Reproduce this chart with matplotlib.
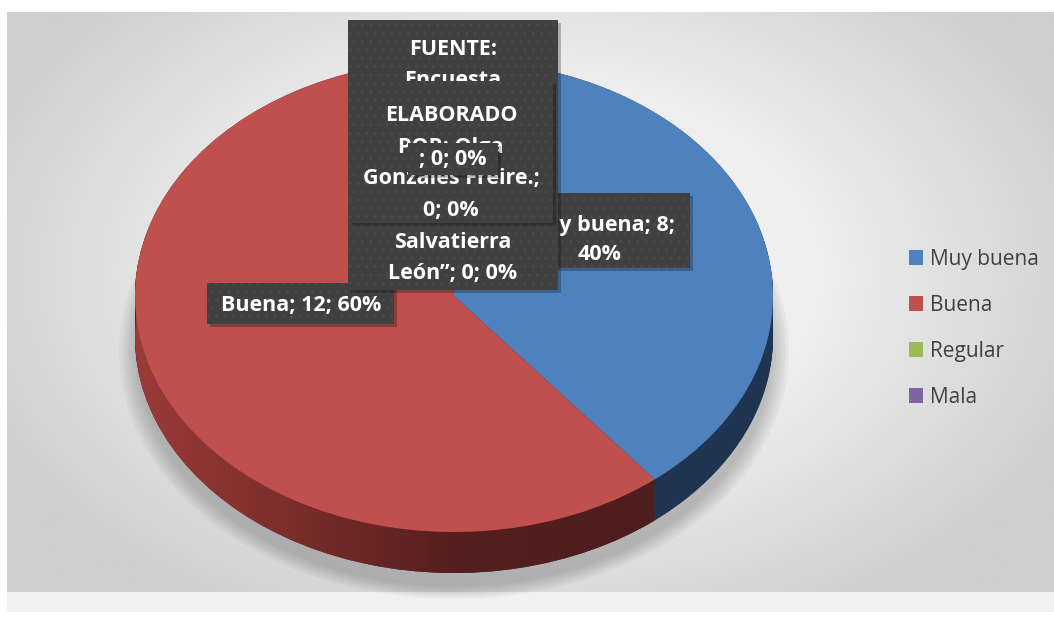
import numpy as np
import matplotlib
matplotlib.use("Agg")
import matplotlib.pyplot as plt
from matplotlib.patches import Rectangle
from matplotlib.colors import LinearSegmentedColormap

# data
categories = ["Muy buena", "Buena", "Regular", "Mala"]
values = [8, 12, 0, 0]
top_colors = ["#4f81bd", "#c0504d", "#9bbb59", "#8064a2"]
side_colors = ["#1f3450", "#4f1e1e", "#3e4a23", "#332841"]

total = sum(values)
pcts = [v / total * 100 for v in values]
label_muy = f"{categories[0]}; {values[0]};\n{pcts[0]:.0f}%"
label_buena = f"{categories[1]}; {values[1]}; {pcts[1]:.0f}%"
zero_label = f"; {values[2]}; {pcts[2]:.0f}%"

fuente_top = "FUENTE:\nEncuesta"
fuente_bottom = f"Salvatierra\nLeón”; {values[2]}; {pcts[2]:.0f}%"
elaborado = f"ELABORADO\nPOR: Olga\nGonzales Freire.;\n{values[3]}; {pcts[3]:.0f}%"

W, H = 1054, 620
fig = plt.figure(figsize=(W / 100, H / 100), dpi=100)

# background with radial gradient
bg = fig.add_axes([0, 0, 1, 1])
bg.set_xlim(0, W)
bg.set_ylim(H, 0)
bg.axis("off")
yy, xx = np.mgrid[0:1:200j, 0:1:300j]
rr = np.sqrt(((xx - 0.5) / 0.75) ** 2 + ((yy - 0.45) / 0.9) ** 2)
cmap_bg = LinearSegmentedColormap.from_list("bg", ["#f6f6f6", "#eeeeee", "#cfcfcf"])
bg.imshow(rr, extent=[7, W, 592, 12], cmap=cmap_bg, aspect="auto", vmin=0, vmax=0.75)
bg.add_patch(Rectangle((7, 592), W - 7, 20, color="#f1f1f1", lw=0))

# pie axes (squashed to look tilted)
ax = fig.add_axes([0, 0, 1, 1])
ax.patch.set_alpha(0)
cx, cy, rx, ry = 454, 296, 319, 236
depth = 41 / ry
start = 93

# soft shadow
for r in np.linspace(1.05, 1.0, 6):
    ax.pie([1], colors=["#000000"], radius=r, center=(0.0, -depth - 0.06),
           wedgeprops=dict(linewidth=0, alpha=0.035, zorder=1))

# side of the pie
for d in np.linspace(depth, 0, 45):
    side, _ = ax.pie(values, colors=side_colors, startangle=start, counterclock=False,
                     center=(0, -d), wedgeprops=dict(linewidth=0, zorder=2))
    if d == depth:
        bottom_red = side[1]

grad = np.linspace(0, 1, 300).reshape(1, -1)
cmap_side = LinearSegmentedColormap.from_list(
    "side", ["#9a3b39", "#7a2d2b", "#561f1f", "#4e1d1d", "#4e1d1d"])
im = ax.imshow(grad, extent=[-1.0, 1.0, -1.3, 1.0], cmap=cmap_side,
               aspect="auto", zorder=3)
im.set_clip_path(bottom_red)

# top face
wedges, _ = ax.pie(values, colors=top_colors, startangle=start, counterclock=False,
                   wedgeprops=dict(linewidth=0, zorder=4))

ax.set_aspect("auto")
ax.set_xlim(-cx / rx, (W - cx) / rx)
ax.set_ylim(-(H - cy) / ry, cy / ry)
ax.axis("off")

leg = ax.legend(wedges, categories, loc="upper left", bbox_to_anchor=(890 / W, 1 - 230 / H),
                bbox_transform=fig.transFigure, frameon=False,
                handlelength=0.7, handleheight=0.7, handletextpad=0.3, labelspacing=1.2,
                prop=dict(family="Open Sans", size=15))
for t in leg.get_texts():
    t.set_color("#404040")

# label boxes
lab = fig.add_axes([0, 0, 1, 1])
lab.set_xlim(0, W)
lab.set_ylim(H, 0)
lab.axis("off")
lab.patch.set_alpha(0)

font = dict(family="Open Sans", weight="bold", size=15.5, color="white", ha="center",
            va="center", linespacing=1.68)


def box(x0, y0, x1, y1, z):
    lab.add_patch(Rectangle((x0 + 3, y0 + 3), x1 - x0, y1 - y0, color="black",
                            alpha=0.25, lw=0, zorder=z))
    lab.add_patch(Rectangle((x0, y0), x1 - x0, y1 - y0, facecolor="#404040",
                            edgecolor="#4a4a4a", hatch="..", lw=0, zorder=z + 0.1))


box(510, 193, 690, 268, 1)
lab.text(600, 240, label_muy, zorder=1.2, linespacing=1.5,
         **{k: v for k, v in font.items() if k != "linespacing"})

box(207, 283, 394, 324, 1)
lab.text(301, 306, label_buena, zorder=1.2, **font)

box(348, 20, 558, 290, 2)
lab.text(453, 65, fuente_top, zorder=2.2, **font)
lab.text(453, 258, fuente_bottom, zorder=2.2, **font)

box(349, 81, 553, 223, 3)
lab.text(451, 163, elaborado, zorder=3.2, **font)

box(408, 143, 498, 175, 4)
lab.text(453, 159, zero_label, zorder=4.2, **font)

fig.savefig("out.png", dpi=100)
